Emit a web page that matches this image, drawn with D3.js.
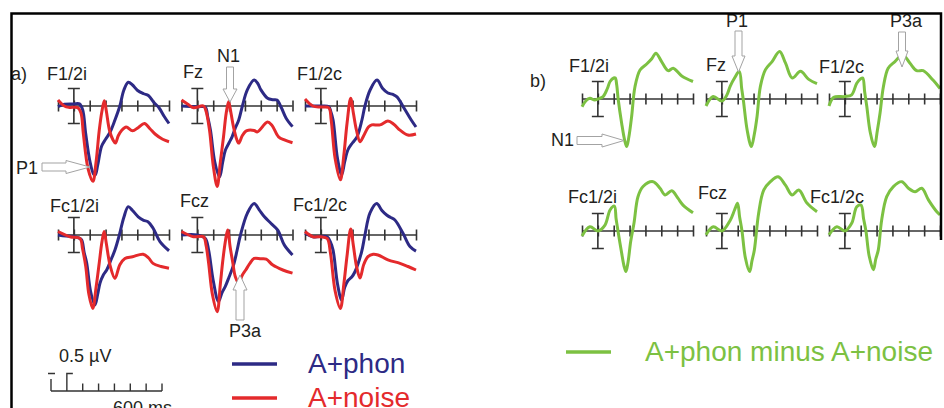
<!DOCTYPE html>
<html>
<head>
<meta charset="utf-8">
<script src="https://cdnjs.cloudflare.com/ajax/libs/d3/7.8.5/d3.min.js"></script>
<style>
  body { margin: 0; background: #fff; }
  svg text { font-family: "Liberation Sans", Arial, sans-serif; fill: #231f20; }
</style>
</head>
<body>
<svg id="canvas" width="944" height="408"></svg>
<script>
// electrode sites, same order in both panels
const electrodes = ['F1/2i', 'Fz', 'F1/2c', 'Fc1/2i', 'Fcz', 'Fc1/2c']
const tickMs = [-100, 0, 100, 200, 300, 400, 500, 600]

// [ms, µV] key points (positive plotted down)
const phon = [
  [[-100,0.02],[-60,-0.05],[0,-0.06],[35,-0.06],[55,0.1],[75,0.8],[100,1.55],[125,1.95],[135,1.97],[150,1.7],[175,1.15],[200,0.95],[228,0.75],[255,0.45],[290,0],[315,-0.45],[343,-0.68],[370,-0.6],[400,-0.45],[440,-0.35],[470,-0.3],[505,-0.1],[537,0.05],[570,0.3],[600,0.5]],
  [[-100,0],[0,0.02],[50,0.03],[65,0.3],[83,0.7],[110,1.6],[140,2.03],[160,1.6],[177,1.26],[200,1.05],[219,0.88],[240,0.62],[261,0.4],[284,0],[315,-0.46],[358,-0.74],[380,-0.65],[401,-0.46],[443,-0.22],[475,-0.18],[502,-0.17],[530,0.05],[559,0.34],[600,0.59]],
  [[-100,0],[0,0],[50,0.02],[62,0.15],[77,0.4],[105,1.5],[131,1.97],[150,1.6],[171,1.25],[200,1.05],[228,0.88],[259,0.4],[278,0],[310,-0.45],[354,-0.74],[390,-0.5],[423,-0.37],[455,-0.33],[480,-0.26],[530,0.1],[570,0.4],[600,0.6]],
  [[-100,0],[-50,0.03],[0,0.04],[30,0.08],[49,0.14],[65,0.5],[81,0.8],[105,1.6],[133,2.0],[150,1.7],[165,1.37],[185,1.15],[207,1.0],[235,0.7],[259,0.43],[287,0],[315,-0.5],[343,-0.81],[370,-0.7],[406,-0.52],[440,-0.42],[467,-0.38],[499,-0.2],[543,0.19],[600,0.45]],
  [[-100,0],[0,0],[50,0.1],[71,0.43],[100,1.3],[133,1.9],[155,1.65],[177,1.46],[200,1.2],[228,0.86],[250,0.45],[272,0],[315,-0.62],[358,-0.9],[390,-0.72],[423,-0.52],[465,-0.33],[507,-0.14],[549,0.29],[600,0.57]],
  [[-100,-0.05],[-50,0.05],[40,0.05],[60,0.2],[77,0.43],[105,1.4],[131,1.86],[150,1.5],[171,1.3],[195,1.2],[215,1.05],[257,0.48],[278,0],[310,-0.63],[352,-0.9],[385,-0.7],[415,-0.57],[440,-0.5],[467,-0.43],[518,-0.05],[562,0.33],[600,0.46]]
]

const noise = [
  [[-100,-0.17],[-60,0],[-30,0.04],[25,0.05],[45,0.2],[60,0.8],[90,1.8],[120,2.15],[140,1.6],[160,0.7],[177,0.15],[192,-0.15],[205,0.15],[225,0.7],[247,0.97],[262,1.06],[280,0.85],[301,0.7],[330,0.6],[370,0.71],[405,0.62],[445,0.5],[480,0.65],[512,0.8],[560,0.95],[600,1.02]],
  [[-100,-0.17],[-60,-0.05],[-24,0.05],[39,0],[55,0.15],[77,0.7],[100,1.7],[125,2.3],[145,1.6],[165,0.88],[182,0.2],[197,-0.12],[212,0.2],[228,0.6],[248,0.95],[261,1.06],[283,0.85],[305,0.72],[322,0.69],[358,0.7],[379,0.74],[442,0.46],[470,0.55],[512,0.88],[549,0.97],[600,1.05]],
  [[-100,-0.2],[-50,0],[0,0.03],[50,0.05],[65,0.4],[90,1.5],[123,2.11],[145,1.4],[165,0.5],[188,-0.22],[205,0.2],[225,0.7],[247,1.02],[270,0.85],[300,0.6],[321,0.54],[373,0.54],[423,0.43],[460,0.52],[499,0.69],[549,0.83],[600,0.8]],
  [[-100,-0.1],[-24,0.05],[39,0.1],[55,0.4],[75,0.9],[95,1.7],[119,2.1],[140,1.5],[160,0.8],[177,0.2],[191,-0.1],[205,0.25],[230,0.9],[259,1.24],[290,0.85],[322,0.67],[370,0.62],[437,0.55],[470,0.65],[499,0.81],[550,0.9],[600,0.95]],
  [[-100,-0.1],[-24,0.05],[39,0.05],[55,0.3],[71,0.8],[95,1.7],[125,2.19],[145,1.4],[160,0.75],[176,0.2],[191,-0.14],[207,0.35],[222,0.75],[240,1.2],[261,1.37],[283,1.15],[305,1.0],[330,0.82],[358,0.67],[400,0.68],[434,0.69],[476,0.86],[539,1.0],[600,1.09]],
  [[-100,-0.1],[-50,0.05],[0,0.05],[40,0.1],[60,0.5],[90,1.6],[123,2.1],[145,1.4],[165,0.6],[188,-0.17],[205,0.3],[225,0.9],[247,1.23],[270,0.85],[297,0.62],[330,0.55],[360,0.57],[423,0.71],[499,0.81],[550,0.9],[600,1.0]]
]

// A+phon minus A+noise
const diff = [
  [[-100,0.22],[-75,0.05],[-50,-0.02],[-20,0.03],[0,0],[33,-0.07],[60,-0.3],[77,-0.5],[100,-0.6],[110,-0.6],[119,-0.4],[128,0],[150,0.69],[170,1.2],[182,1.36],[195,1.1],[213,0.5],[234,-0.35],[266,-0.83],[308,-1.0],[340,-1.15],[366,-1.31],[402,-1.07],[443,-0.81],[475,-0.88],[529,-0.66],[600,-0.5]],
  [[-100,0.2],[-55,-0.07],[0,0.06],[30,-0.1],[53,-0.37],[80,-0.6],[110,-0.79],[125,-0.3],[136,0.05],[160,0.9],[186,1.36],[205,1.0],[222,0.5],[243,-0.36],[275,-0.84],[317,-1.07],[364,-1.36],[401,-1.03],[444,-0.6],[496,-0.79],[548,-0.56],[600,-0.44]],
  [[-100,0.2],[-70,-0.05],[0,-0.07],[43,-0.12],[75,-0.45],[100,-0.58],[113,-0.6],[125,-0.2],[138,0.2],[160,0.95],[186,1.36],[205,0.9],[222,0.4],[243,-0.35],[273,-0.88],[316,-1.07],[365,-1.26],[411,-1.02],[453,-0.81],[494,-0.81],[556,-0.54],[600,-0.3]],
  [[-100,0.14],[-50,-0.12],[0,0],[45,-0.17],[77,-0.6],[104,-0.71],[115,-0.35],[127,0],[150,0.63],[165,1.0],[177,1.16],[190,0.9],[207,0.3],[228,-0.23],[253,-0.98],[285,-1.27],[348,-1.41],[392,-1.22],[424,-1.03],[466,-1.15],[506,-0.93],[537,-0.74],[600,-0.52]],
  [[-100,0.11],[-54,-0.12],[0,0],[53,-0.31],[80,-0.6],[99,-0.79],[112,-0.4],[127,0],[148,0.76],[175,1.16],[190,0.85],[205,0.54],[232,-0.51],[264,-1.17],[306,-1.41],[355,-1.55],[401,-1.31],[443,-1.03],[485,-1.17],[538,-0.79],[600,-0.55]],
  [[-100,0.11],[-50,-0.12],[0,0],[43,-0.22],[75,-0.69],[102,-0.74],[118,-0.35],[133,0],[154,0.73],[180,1.11],[195,0.8],[211,0.54],[232,-0.31],[264,-0.98],[306,-1.27],[359,-1.41],[401,-1.22],[443,-1.12],[485,-1.22],[527,-0.89],[580,-0.55],[600,-0.46]]
]

const legendA = ['A+phon', 'A+noise']
const legendB = ['A+phon minus A+noise']

const BLUE = '#2d2a85', RED = '#e42a2c', GREEN = '#7cc142', AXIS = '#333'

let canvas = d3.select('#canvas')

let x = d3.scaleLinear().domain([-100, 600]).range([0, 111])
let y = d3.scaleLinear().domain([0, 1]).range([0, 35])   // µV, positive down

let line = d3.line()
    .x(d => x(d[0]))
    .y(d => y(d[1]))
    .curve(d3.curveCatmullRom.alpha(0.5))

// subplot origins (x of -100 ms, y of baseline)
let colsA = [58, 181.5, 305], rowsA = [106, 235]
let colsB = [582, 706, 829], rowsB = [99, 231]

// label anchors, absolute
let labelsA = [[47, 80], [183, 78], [297, 80], [50, 212], [180, 207], [293, 211]]
let labelsB = [[569, 72], [706, 71], [819, 73], [568, 203], [698, 199], [810, 203]]

let drawAxis = (g) => {
    let ax = d3.axisBottom(x).tickValues(tickMs).tickSize(6).tickFormat('')
    g.append('g').call(ax)
        .call(s => s.select('.domain').attr('d', 'M' + x(-100) + ',0H' + x(600))
            .attr('stroke', AXIS).attr('stroke-width', 1.6))
        .call(s => s.selectAll('.tick line').attr('y1', -5.5).attr('y2', 5.5)
            .attr('stroke', AXIS).attr('stroke-width', 1.6))
    // amplitude bar at stimulus onset (±0.5 µV)
    let bx = x(0)
    g.append('path')
        .attr('d', 'M' + (bx - 6) + ',' + y(-0.5) + 'H' + (bx + 6) +
                   'M' + bx + ',' + y(-0.5) + 'V' + y(0.5) +
                   'M' + (bx - 6) + ',' + y(0.5) + 'H' + (bx + 6))
        .attr('fill', 'none').attr('stroke', AXIS).attr('stroke-width', 1.6)
}

let drawPanel = (cols, rows, labels, series) => {
    electrodes.forEach((name, i) => {
        let g = canvas.append('g')
            .attr('transform', 'translate(' + cols[i % 3] + ',' + rows[Math.floor(i / 3)] + ')')
        drawAxis(g)
        series.forEach(s => {
            g.append('path')
                .attr('d', line(s.data[i]))
                .attr('fill', 'none')
                .attr('stroke', s.color)
                .attr('stroke-width', 3)
                .attr('stroke-linejoin', 'round')
        })
        canvas.append('text')
            .attr('x', labels[i][0]).attr('y', labels[i][1])
            .attr('font-size', 18)
            .text(name)
    })
}

drawPanel(colsA, rowsA, labelsA, [{data: phon, color: BLUE}, {data: noise, color: RED}])
drawPanel(colsB, rowsB, labelsB, [{data: diff, color: GREEN}])

// block arrows: tip point, direction, length
let arrow = (tx, ty, dir, len, shaftW, headL, headW) => {
    let p = [[0, 0], [headL, -headW / 2], [headL, -shaftW / 2], [len, -shaftW / 2],
             [len, shaftW / 2], [headL, shaftW / 2], [headL, headW / 2]]
    let a = {right: 180, left: 0, down: -90, up: 90}[dir]
    canvas.append('path')
        .attr('d', 'M' + p.map(q => q.join(',')).join('L') + 'Z')
        .attr('transform', 'translate(' + tx + ',' + ty + ') rotate(' + a + ')')
        .attr('fill', '#fff').attr('stroke', '#a3a3a3').attr('stroke-width', 1)
}

// component markers
let markers = [
    {t: 'N1', x: 217, y: 62, ax: 230, ay: 102, dir: 'down', len: 35, sw: 7, hl: 13, hw: 14},
    {t: 'P1', x: 16, y: 174, ax: 90, ay: 167, dir: 'right', len: 48, sw: 8, hl: 24, hw: 13},
    {t: 'P3a', x: 229, y: 337, ax: 240, ay: 275, dir: 'up', len: 45, sw: 8, hl: 15, hw: 14},
    {t: 'P1', x: 726, y: 27, ax: 738.5, ay: 72, dir: 'down', len: 41, sw: 7, hl: 16, hw: 13},
    {t: 'P3a', x: 890, y: 27, ax: 902, ay: 67, dir: 'down', len: 35, sw: 7, hl: 16, hw: 12},
    {t: 'N1', x: 551, y: 146, ax: 624, ay: 140.5, dir: 'right', len: 47, sw: 8, hl: 22, hw: 13}
]
markers.forEach(m => {
    arrow(m.ax, m.ay, m.dir, m.len, m.sw, m.hl, m.hw)
    canvas.append('text').attr('x', m.x).attr('y', m.y).attr('font-size', 18).text(m.t)
})

canvas.append('text').attr('x', 11).attr('y', 80).attr('font-size', 18).text('a)')
canvas.append('text').attr('x', 530).attr('y', 87).attr('font-size', 18).text('b)')

// scale bar
let sb = canvas.append('g').attr('transform', 'translate(51,391)')
sb.append('path')
    .attr('d', 'M0,0H' + x(600) +
        tickMs.filter(t => t > 0).map(t => 'M' + x(t) + ',0V-7.5').join('') +
        'M0,0V-12' + 'M-3,' + y(-0.5) + 'H4' +
        'M' + x(0) + ',0V' + y(-0.5) + 'H' + (x(0) + 6))
    .attr('fill', 'none').attr('stroke', AXIS).attr('stroke-width', 1.4)
canvas.append('text').attr('x', 59).attr('y', 362).attr('font-size', 18).text('0.5 µV')
canvas.append('text').attr('x', 113).attr('y', 414).attr('font-size', 18).text('600 ms')

// legends
let legA = canvas.append('g')
legendA.forEach((name, i) => {
    let c = i === 0 ? BLUE : RED
    legA.append('line').attr('x1', 232).attr('x2', 277)
        .attr('y1', 364 + i * 34).attr('y2', 364 + i * 34)
        .attr('stroke', c).attr('stroke-width', 3.5)
    legA.append('text').attr('x', 308).attr('y', 373 + i * 34)
        .attr('font-size', 28).style('fill', c).text(name)
})
legendB.forEach(name => {
    canvas.append('line').attr('x1', 566).attr('x2', 611).attr('y1', 352).attr('y2', 352)
        .attr('stroke', GREEN).attr('stroke-width', 3.5)
    canvas.append('text').attr('x', 645).attr('y', 361)
        .attr('font-size', 28).style('fill', GREEN).text(name)
})

// frame
canvas.append('path')
    .attr('d', 'M11.5,408V13.5H941V240')
    .attr('fill', 'none').attr('stroke', '#000').attr('stroke-width', 2.5)
</script>
</body>
</html>
